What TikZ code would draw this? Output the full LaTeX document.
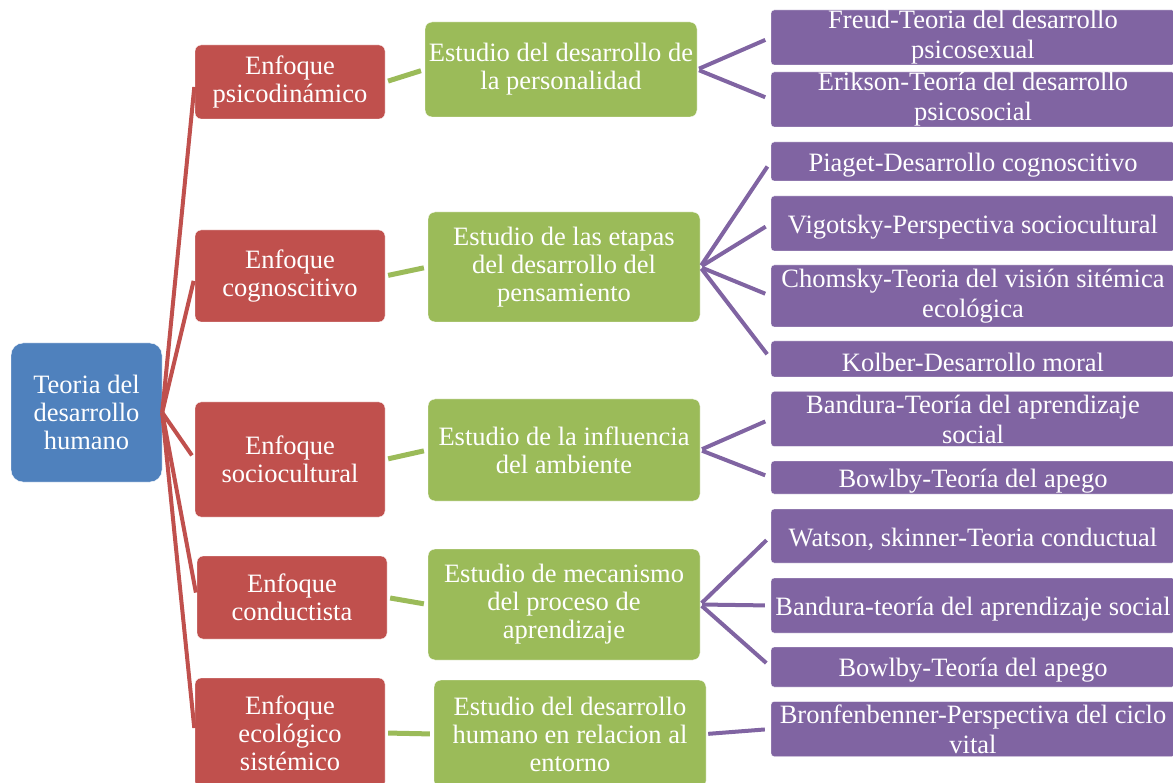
\documentclass[tikz,border=0pt]{standalone}
\usepackage{fontspec}
\setmainfont{Liberation Serif}
\definecolor{cblue}{HTML}{4F81BD}
\definecolor{cred}{HTML}{C0504D}
\definecolor{cgreen}{HTML}{9BBB59}
\definecolor{cpurple}{HTML}{8064A2}
\tikzset{
  box/.style={inner sep=0pt, align=center, text=white, font=\fontsize{26.5}{28}\selectfont},
  rootbox/.style={box, fill=cblue, draw=white, rounded corners=12pt, minimum width=151pt, minimum height=139pt},
  redbox/.style={box, fill=cred, draw=white, rounded corners=6pt, minimum width=190pt, execute at begin node={\rule{0pt}{22pt}}},
  greenbox/.style={box, fill=cgreen, draw=white, rounded corners=7pt, minimum width=272pt, execute at begin node={\rule{0pt}{22pt}}},
  purplebox/.style={box, fill=cpurple, draw=white, rounded corners=3pt, minimum width=404pt, font=\fontsize{26.5}{30}\selectfont, execute at begin node={\rule{0pt}{25pt}}},
  redline/.style={draw=cred, line width=4pt, shorten >=5pt},
  greenline/.style={draw=cgreen, line width=5pt, shorten <=3pt, shorten >=4pt},
  purpleline/.style={draw=cpurple, line width=4pt, shorten >=6pt, shorten <=2pt}
}
\begin{document}
\begin{tikzpicture}[x=1pt, y=-1pt]
\useasboundingbox (0,0) rectangle (1173,783);
% root
\node[rootbox] (root) at (86.5,412.5) {Teoria del\\desarrollo\\humano};
% red
\node[redbox, minimum height=74pt] (r1) at (290,82) {Enfoque\\psicodinámico};
\node[redbox, minimum height=92pt] (r2) at (290,276) {Enfoque\\cognoscitivo};
\node[redbox, minimum height=115pt] (r3) at (290,459.5) {Enfoque\\sociocultural};
\node[redbox, minimum height=83pt] (r4) at (292,597.5) {Enfoque\\conductista};
\node[redbox, minimum height=110pt] (r5) at (290,733) {Enfoque\\ecológico\\sistémico};
% green
\node[greenbox, minimum height=95pt] (g1) at (561,69.5) {Estudio del desarrollo de\\la personalidad};
\node[greenbox, minimum height=110pt] (g2) at (564,267) {Estudio de las etapas\\del desarrollo del\\pensamiento};
\node[greenbox, minimum height=102pt] (g3) at (564,450) {Estudio de la influencia\\del ambiente};
\node[greenbox, minimum height=111pt] (g4) at (564,604.5) {Estudio de mecanismo\\del proceso de\\aprendizaje};
\node[greenbox, minimum height=108pt] (g5) at (570,734) {Estudio del desarrollo\\humano en relacion al\\entorno};
% purple
\node[purplebox, minimum height=55pt] (p1) at (973,37.5) {Freud-Teoria del desarrollo\\psicosexual};
\node[purplebox, minimum height=55pt] (p2) at (973,99.5) {Erikson-Teoría del desarrollo\\psicosocial};
\node[purplebox, minimum height=39pt] (p3) at (973,161.5) {Piaget-Desarrollo cognoscitivo};
\node[purplebox, minimum height=55pt] (p4) at (973,223.5) {Vigotsky-Perspectiva sociocultural};
\node[purplebox, minimum height=62pt] (p5) at (973,296) {Chomsky-Teoria del visión sitémica\\ecológica};
\node[purplebox, minimum height=36pt] (p6) at (973,359) {Kolber-Desarrollo moral};
\node[purplebox, minimum height=55pt] (p7) at (973,419) {Bandura-Teoría del aprendizaje\\social};
\node[purplebox, minimum height=33pt] (p8) at (973,477.5) {Bowlby-Teoría del apego};
\node[purplebox, minimum height=54pt] (p9) at (973,536) {Watson, skinner-Teoria conductual};
\node[purplebox, minimum height=55pt] (p10) at (973,605.5) {Bandura-teoría del aprendizaje social};
\node[purplebox, minimum height=40pt] (p11) at (973,667) {Bowlby-Teoría del apego};
\node[purplebox, minimum height=55pt] (p12) at (973,729) {Bronfenbenner-Perspectiva del ciclo\\vital};
% red connectors
\foreach \r in {r1,r2,r3,r4,r5}{
  \draw[redline] (root.east) -- (\r.west);
}
% green connectors
\draw[greenline] (r1.east) -- (g1.west);
\draw[greenline] (r2.east) -- (g2.west);
\draw[greenline] (r3.east) -- (g3.west);
\draw[greenline] (r4.east) -- (g4.west);
\draw[greenline] (r5.east) -- (g5.west);
% purple connectors
\draw[purpleline] (g1.east) -- (p1.west);
\draw[purpleline] (g1.east) -- (p2.west);
\draw[purpleline] (g2.east) -- (p3.west);
\draw[purpleline] (g2.east) -- (p4.west);
\draw[purpleline] (g2.east) -- (p5.west);
\draw[purpleline] (g2.east) -- (p6.west);
\draw[purpleline] (g3.east) -- (p7.west);
\draw[purpleline] (g3.east) -- (p8.west);
\draw[purpleline] (g4.east) -- (p9.west);
\draw[purpleline] (g4.east) -- (p10.west);
\draw[purpleline] (g4.east) -- (p11.west);
\draw[purpleline] (g5.east) -- (p12.west);
\end{tikzpicture}
\end{document}
